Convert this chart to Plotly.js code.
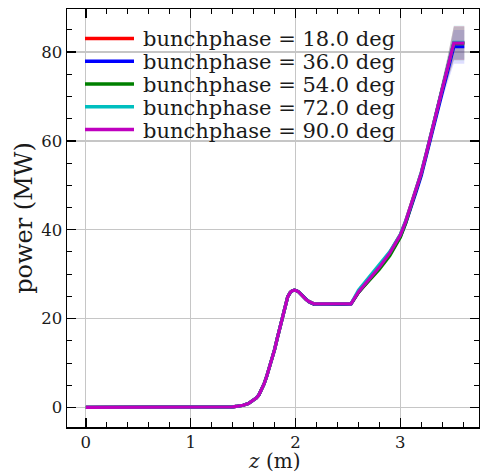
<!DOCTYPE html>
<html>
<head>
<meta charset="utf-8">
<script src="https://cdn.plot.ly/plotly-3.0.1.min.js"></script>
<style>html,body{margin:0;padding:0;background:#fff;}#chart{width:480px;height:474px;}</style>
</head>
<body>
<div id="chart"></div>
<script>
// ---- data ----
const z = [0, 0.2, 0.4, 0.6, 0.8, 1.0, 1.1, 1.2, 1.3, 1.4, 1.45, 1.5, 1.55, 1.6, 1.625, 1.65, 1.675, 1.7, 1.725, 1.75, 1.775, 1.8, 1.825, 1.85, 1.875, 1.9, 1.925, 1.95, 1.97, 1.99, 2.01, 2.03, 2.05, 2.075, 2.1, 2.125, 2.15, 2.18, 2.3, 2.4, 2.53, 2.6, 2.7, 2.8, 2.9, 3.0, 3.05, 3.1, 3.15, 3.2, 3.25, 3.3, 3.35, 3.4, 3.45, 3.51, 3.55, 3.61];
const power90 = [0, 0, 0, 0, 0, 0, 0, 0.02, 0.05, 0.15, 0.3, 0.5, 0.9, 1.6, 2.1, 2.8, 3.9, 5.3, 7.0, 8.9, 10.9, 13.0, 15.5, 17.9, 20.7, 23.1, 24.9, 25.9, 26.3, 26.4, 26.3, 26.0, 25.5, 24.9, 24.3, 23.9, 23.6, 23.3, 23.3, 23.3, 23.4, 26.0, 28.8, 31.6, 34.8, 38.8, 41.8, 45.3, 49.0, 52.8, 57.4, 62.4, 67.0, 71.7, 76.4, 82.0, 82.0, 82.0];
const power18 = [0, 0, 0, 0, 0, 0, 0, 0.02, 0.05, 0.15, 0.3, 0.5, 0.9, 1.6, 2.1, 2.8, 3.9, 5.3, 7.0, 8.9, 10.9, 13.0, 15.5, 17.9, 20.7, 23.1, 24.9, 25.9, 26.3, 26.4, 26.3, 26.0, 25.5, 24.9, 24.2, 23.8, 23.5, 23.2, 23.2, 23.2, 23.3, 25.9, 28.8, 31.7, 34.9, 38.9, 41.9, 45.4, 49.1, 52.9, 57.5, 62.5, 67.1, 71.8, 76.5, 82.1, 82.1, 82.1];
const power36 = [0, 0, 0, 0, 0, 0, 0, 0.02, 0.05, 0.15, 0.3, 0.5, 0.9, 1.6, 2.1, 2.8, 3.9, 5.3, 7.0, 8.9, 10.9, 13.0, 15.5, 17.9, 20.7, 23.1, 24.9, 25.9, 26.3, 26.4, 26.3, 26.0, 25.5, 24.9, 24.3, 23.8, 23.5, 23.2, 23.2, 23.2, 23.3, 25.9, 28.7, 31.5, 34.6, 38.5, 41.4, 44.8, 48.5, 52.2, 56.8, 61.7, 66.3, 70.9, 75.5, 81.2, 81.2, 81.2];
const power54 = [0, 0, 0, 0, 0, 0, 0, 0.02, 0.05, 0.15, 0.3, 0.5, 0.9, 1.6, 2.1, 2.8, 3.9, 5.3, 7.0, 8.9, 10.9, 13.0, 15.5, 17.9, 20.7, 23.1, 24.9, 25.9, 26.3, 26.4, 26.3, 26.0, 25.5, 24.9, 24.3, 23.9, 23.6, 23.3, 23.3, 23.3, 23.4, 25.9, 28.5, 31.1, 34.2, 38.3, 41.4, 45.0, 48.8, 52.7, 57.3, 62.3, 67.0, 71.7, 76.4, 81.9, 81.9, 81.9];
const power72 = [0, 0, 0, 0, 0, 0, 0, 0.02, 0.05, 0.15, 0.3, 0.5, 0.9, 1.6, 2.1, 2.8, 3.9, 5.3, 7.0, 8.9, 10.9, 13.0, 15.5, 17.9, 20.7, 23.1, 24.9, 25.9, 26.3, 26.4, 26.3, 26.0, 25.5, 24.9, 24.3, 23.9, 23.6, 23.3, 23.3, 23.3, 23.4, 26.4, 29.3, 32.0, 35.1, 39.0, 42.0, 45.5, 49.2, 53.0, 57.6, 62.6, 67.2, 71.9, 76.6, 82.2, 82.2, 82.2];
const spread = [0, 0, 0, 0, 0, 0, 0, 0, 0, 0, 0, 0, 0, 0, 0, 0, 0, 0, 0, 0, 0, 0, 0, 0, 0, 0, 0, 0, 0, 0, 0, 0, 0, 0, 0, 0, 0, 0, 0, 0, 0, 0.3, 0.5, 0.6, 0.6, 0.5, 0.5, 0.5, 0.5, 0.6, 0.7, 0.9, 1.2, 1.6, 2.4, 3.8, 3.8, 3.8];

const labels = ['bunchphase = 18.0 deg', 'bunchphase = 36.0 deg', 'bunchphase = 54.0 deg', 'bunchphase = 72.0 deg', 'bunchphase = 90.0 deg'];
const series = [power18, power36, power54, power72, power90];
const colors = ['#ff0000', '#0000ff', '#008000', '#00bfbf', '#bf00bf'];
const bandColors = ['rgba(255,0,0,0.13)', 'rgba(0,0,255,0.13)', 'rgba(0,128,0,0.13)', 'rgba(0,191,191,0.13)', 'rgba(191,0,191,0.13)'];

const xTickVals = [0, 1, 2, 3];
const yTickVals = [0, 20, 40, 60, 80];
const xTitle = '<i>z</i> (m)';
const yTitle = 'power (MW)';

// ---- traces ----
const traces = [];
series.forEach((p, i) => {
  traces.push({x: z, y: p.map((v, k) => v + spread[k]), mode: 'lines', line: {width: 0, color: 'rgba(0,0,0,0)'}, showlegend: false, hoverinfo: 'skip'});
  traces.push({x: z, y: p.map((v, k) => v - spread[k]), mode: 'lines', fill: 'tonexty', fillcolor: bandColors[i], line: {width: 0, color: 'rgba(0,0,0,0)'}, showlegend: false, hoverinfo: 'skip'});
});
series.forEach((p, i) => {
  traces.push({x: z, y: p, mode: 'lines', name: labels[i], line: {color: colors[i], width: 3.2}, showlegend: false});
});

// ---- layout ----
const L = 67, R = 1, T = 9, B = 47, W = 480, H = 474;
const pw = W - L - R, ph = H - T - B;
const px2x = px => (px - L) / pw;
const py2y = py => (H - B - py) / ph;

const shapes = [], annotations = [];
const rows = [38.5, 61.3, 84, 106.8, 129.6];
labels.forEach((lab, i) => {
  shapes.push({type: 'line', xref: 'paper', yref: 'paper', x0: px2x(85), x1: px2x(134), y0: py2y(rows[i]), y1: py2y(rows[i]), line: {color: colors[i], width: 3.5}});
  annotations.push({xref: 'paper', yref: 'paper', x: px2x(141), y: py2y(rows[i] + 1), xanchor: 'left', yanchor: 'middle', text: lab, showarrow: false, font: {family: 'DejaVu Serif', size: 21, color: '#1a1a1a'}});
});
// x-axis title as annotation so it can sit at the very bottom like the reference
annotations.push({xref: 'paper', yref: 'paper', x: px2x(274), y: py2y(461), xanchor: 'center', yanchor: 'middle', borderpad: 0, text: xTitle, showarrow: false, font: {family: 'DejaVu Serif', size: 20, color: '#1a1a1a'}});

const axisCommon = {
  showline: true, linecolor: '#000', linewidth: 1.5, mirror: 'ticks',
  ticks: 'inside', ticklen: 9, tickwidth: 1.3, tickcolor: '#000',
  showgrid: true, gridcolor: '#c6c6c6', gridwidth: 1.2, zeroline: false,
  tickfont: {family: 'DejaVu Serif', size: 16.5, color: '#1a1a1a'},
  automargin: false
};

const layout = {
  width: W, height: H,
  margin: {l: L, r: R, t: T, b: B},
  paper_bgcolor: '#fff', plot_bgcolor: '#fff',
  showlegend: false,
  xaxis: Object.assign({}, axisCommon, {
    range: [-0.18, 3.75], tickvals: xTickVals, ticktext: xTickVals.map(String),
    minor: {dtick: 0.2, tick0: 0, ticks: 'inside', ticklen: 5, tickwidth: 1, tickcolor: '#000', showgrid: false}
  }),
  yaxis: Object.assign({}, axisCommon, {
    range: [-4.4, 89.7], tickvals: yTickVals, ticktext: yTickVals.map(String),
    minor: {dtick: 5, tick0: 0, ticks: 'inside', ticklen: 5, tickwidth: 1, tickcolor: '#000', showgrid: false},
    title: {text: yTitle, font: {family: 'DejaVu Serif', size: 24, color: '#1a1a1a'}, standoff: 2}
  }),
  shapes: shapes,
  annotations: annotations
};

Plotly.newPlot('chart', traces, layout, {displayModeBar: false, staticPlot: true});
</script>
</body>
</html>
